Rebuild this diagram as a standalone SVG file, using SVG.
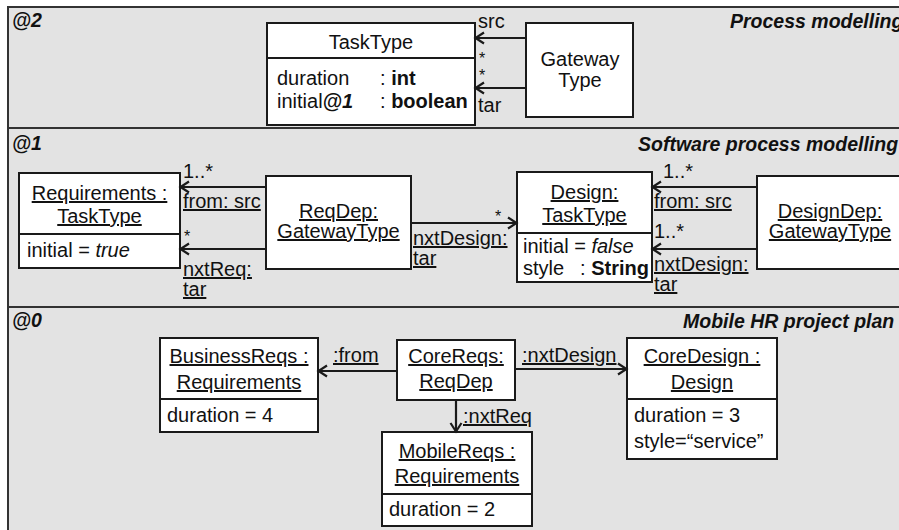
<svg xmlns="http://www.w3.org/2000/svg" width="899" height="530" viewBox="0 0 899 530">
<style>
text{font-family:"Liberation Sans",Arial,sans-serif;font-size:20px;fill:#111}
.c{text-anchor:middle}
.u{text-decoration:underline}
.t{font-weight:bold;font-style:italic;font-size:19.5px}
.b{font-weight:bold}
.i{font-style:italic}
.s{font-size:16px}
.panel{fill:#e3e3e3;stroke:#333;stroke-width:2}
.box{fill:#fff;stroke:#1a1a1a;stroke-width:2}
.div{stroke:#1a1a1a;stroke-width:2}
.con{stroke:#1a1a1a;stroke-width:2.2;fill:none;marker-end:url(#arr)}
</style>
<defs>
<marker id="arr" markerUnits="userSpaceOnUse" markerWidth="12" markerHeight="12" refX="0" refY="0" orient="auto" overflow="visible">
<path d="M-9,-5.5 L-0.5,0 L-9,5.5" fill="none" stroke="#1a1a1a" stroke-width="2.2"/>
</marker>
</defs>

<g id="panel-2">
<rect class="panel" x="8" y="7" width="900" height="121"/>
<text class="t" x="12" y="27">@2</text>
<text class="t" x="730" y="28">Process modelling</text>
</g>
<g id="panel-1">
<rect class="panel" x="8" y="128" width="900" height="179"/>
<text class="t" x="12" y="150">@1</text>
<text class="t" x="638" y="151">Software process modelling</text>
</g>
<g id="panel-0">
<rect class="panel" x="8" y="307" width="900" height="240"/>
<text class="t" x="12" y="327">@0</text>
<text class="t" x="683" y="328">Mobile HR project plan</text>
</g>

<g id="TaskType">
<rect class="box" x="267" y="23" width="208" height="102"/>
<line class="div" x1="267" y1="58" x2="475" y2="58"/>
<text class="c" x="371" y="49">TaskType</text>
<text x="277" y="85">duration</text>
<text x="380" y="85">: <tspan class="b">int</tspan></text>
<text x="277" y="108">initial<tspan class="b i">@1</tspan></text>
<text x="380" y="108">: <tspan class="b">boolean</tspan></text>
</g>
<g id="GatewayType">
<rect class="box" x="526" y="23" width="107" height="94"/>
<text class="c" x="580" y="66">Gateway</text>
<text class="c" x="580" y="87">Type</text>
</g>

<g id="Requirements">
<rect class="box" x="19" y="173" width="161" height="95"/>
<line class="div" x1="19" y1="234" x2="180" y2="234"/>
<text class="c u" x="99.5" y="200">Requirements :</text>
<text class="c u" x="99.5" y="223">TaskType</text>
<text x="27" y="257">initial = <tspan class="i">true</tspan></text>
</g>
<g id="ReqDep">
<rect class="box" x="266" y="176" width="145" height="93"/>
<text class="c u" x="338.5" y="218">ReqDep:</text>
<text class="c u" x="338.5" y="238">GatewayType</text>
</g>
<g id="Design">
<rect class="box" x="517" y="172" width="135" height="110"/>
<line class="div" x1="517" y1="233" x2="652" y2="233"/>
<text class="c u" x="584.5" y="199">Design:</text>
<text class="c u" x="584.5" y="222">TaskType</text>
<text x="523" y="253">initial = <tspan class="i">false</tspan></text>
<text x="523" y="275">style</text>
<text x="580" y="275">: <tspan class="b">String</tspan></text>
</g>
<g id="DesignDep">
<rect class="box" x="757" y="176" width="150" height="93"/>
<text class="c u" x="830" y="218">DesignDep:</text>
<text class="c u" x="830" y="238">GatewayType</text>
</g>

<g id="BusinessReqs">
<rect class="box" x="160" y="338" width="158" height="94"/>
<line class="div" x1="160" y1="399" x2="318" y2="399"/>
<text class="c u" x="239" y="363">BusinessReqs :</text>
<text class="c u" x="239" y="389">Requirements</text>
<text x="167" y="422">duration = 4</text>
</g>
<g id="CoreReqs">
<rect class="box" x="397" y="340" width="118" height="60"/>
<text class="c u" x="456" y="363">CoreReqs:</text>
<text class="c u" x="456" y="388">ReqDep</text>
</g>
<g id="CoreDesign">
<rect class="box" x="627" y="338" width="150" height="121"/>
<line class="div" x1="627" y1="399" x2="777" y2="399"/>
<text class="c u" x="702" y="363">CoreDesign :</text>
<text class="c u" x="702" y="389">Design</text>
<text x="634" y="422">duration = 3</text>
<text x="634" y="448">style=“service”</text>
</g>
<g id="MobileReqs">
<rect class="box" x="382" y="432" width="150" height="94"/>
<line class="div" x1="382" y1="494" x2="532" y2="494"/>
<text class="c u" x="457" y="458">MobileReqs :</text>
<text class="c u" x="457" y="483">Requirements</text>
<text x="389" y="516">duration = 2</text>
</g>

<g id="connectors">
<line class="con" x1="526" y1="38" x2="475" y2="38"/>
<line class="con" x1="526" y1="88" x2="475" y2="88"/>
<text x="478" y="28">src</text>
<text class="s" x="479" y="64">*</text>
<text class="s" x="479" y="81">*</text>
<text x="478" y="112">tar</text>

<line class="con" x1="266" y1="187" x2="180" y2="187"/>
<line class="con" x1="266" y1="249" x2="180" y2="249"/>
<text x="183" y="178">1..*</text>
<text class="u" x="183" y="208">from: src</text>
<text class="s" x="184" y="242">*</text>
<text class="u" x="183" y="276">nxtReq:</text>
<text class="u" x="183" y="296">tar</text>

<line class="con" x1="411" y1="223" x2="517" y2="223"/>
<text class="s" x="495" y="222">*</text>
<text class="u" x="413" y="245">nxtDesign:</text>
<text class="u" x="413" y="265">tar</text>

<line class="con" x1="757" y1="187" x2="652" y2="187"/>
<line class="con" x1="757" y1="249" x2="652" y2="249"/>
<text x="663" y="178">1..*</text>
<text class="u" x="654" y="208">from: src</text>
<text x="654" y="238">1..*</text>
<text class="u" x="654" y="271">nxtDesign:</text>
<text class="u" x="654" y="291">tar</text>

<line class="con" x1="397" y1="371" x2="318" y2="371"/>
<text class="u" x="333" y="362">:from</text>
<line class="con" x1="515" y1="369" x2="627" y2="369"/>
<text class="u" x="522" y="362">:nxtDesign</text>
<line class="con" x1="456" y1="400" x2="456" y2="432"/>
<text class="u" x="463" y="423">:nxtReq</text>
</g>
</svg>
